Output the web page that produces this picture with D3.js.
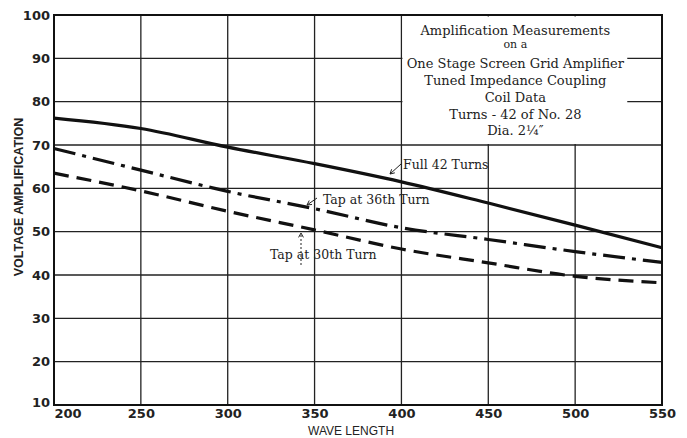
<!DOCTYPE html>
<html>
<head>
<meta charset="utf-8">
<script src="https://cdn.jsdelivr.net/npm/d3@7"></script>
<style>
  body { margin: 0; background: #fff; }
  svg { display: block; }
  .tick text { font-family: "DejaVu Sans", sans-serif; font-weight: bold; font-size: 13px; fill: #222; }
  .note { font-family: "DejaVu Serif", serif; font-size: 13px; fill: #222; }
  .curve-label { font-family: "DejaVu Serif", serif; font-size: 12.5px; fill: #222; }
  .axis-label { font-family: "Liberation Sans", sans-serif; font-size: 12px; fill: #222; }
</style>
</head>
<body>
<div id="chart"></div>
<script>
// wave length (metres) at which the curves were read
let waveLength = [200, 250, 300, 350, 400, 450, 500, 550];
// voltage amplification for each tap
let full42 = [76.2, 73.8, 69.5, 65.7, 61.5, 56.6, 51.5, 46.3];
let tap36 = [69.2, 64.2, 59.3, 55.3, 50.9, 48.2, 45.4, 42.9];
let tap30 = [63.5, 59.4, 54.7, 50.4, 46.0, 42.8, 39.7, 38.2];

let xTicks = [200, 250, 300, 350, 400, 450, 500, 550];
let yTicks = [10, 20, 30, 40, 50, 60, 70, 80, 90, 100];

let noteLines = [
  "Amplification  Measurements",
  "on a",
  "One Stage  Screen  Grid  Amplifier",
  "Tuned Impedance Coupling",
  "Coil Data",
  "Turns - 42 of No. 28",
  "Dia. 2\u00BC\u2033"
];

let margin = { top: 15, right: 25, bottom: 33, left: 54 };
let W = 687, H = 438;
let width = W - margin.left - margin.right;
let height = H - margin.top - margin.bottom;

let xScale = d3.scaleLinear().domain([200, 550]).range([0, width]);
let yScale = d3.scaleLinear().domain([10, 100]).range([height, 0]);

let svg = d3.select('#chart').append('svg')
  .attr('width', W).attr('height', H);

let g = svg.append('g')
  .attr('transform', `translate(${margin.left}, ${margin.top})`);

// grid
let grid = g.append('g').attr('class', 'grid');
grid.selectAll('.hline')
  .data(yTicks)
  .join('line')
  .attr('x1', 0).attr('x2', width)
  .attr('y1', d => yScale(d)).attr('y2', d => yScale(d))
  .attr('stroke', '#222').attr('stroke-width', 1.3);
grid.selectAll('.vline')
  .data(xTicks)
  .join('line')
  .attr('x1', d => xScale(d)).attr('x2', d => xScale(d))
  .attr('y1', 0).attr('y2', height)
  .attr('stroke', '#222').attr('stroke-width', 1.3);

// white panel for the note, top right
let boxX0 = xScale(400), boxX1 = xScale(530);
g.append('rect')
  .attr('x', boxX0 + 1).attr('y', yScale(100) + 1.5)
  .attr('width', boxX1 - boxX0 - 1)
  .attr('height', yScale(70) - yScale(100) - 2.5)
  .attr('fill', '#fff');

// frame
g.append('rect')
  .attr('x', 0).attr('y', 0).attr('width', width).attr('height', height)
  .attr('fill', 'none').attr('stroke', '#111').attr('stroke-width', 2);

// curves
let line = d3.line()
  .x((d, i) => xScale(waveLength[i]))
  .y(d => yScale(d))
  .curve(d3.curveMonotoneX);

g.append('path').datum(full42)
  .attr('d', line).attr('fill', 'none')
  .attr('stroke', '#111').attr('stroke-width', 3.2);
g.append('path').datum(tap36)
  .attr('d', line).attr('fill', 'none')
  .attr('stroke', '#111').attr('stroke-width', 3.2)
  .attr('stroke-dasharray', '22,7,4,7');
g.append('path').datum(tap30)
  .attr('d', line).attr('fill', 'none')
  .attr('stroke', '#111').attr('stroke-width', 3.2)
  .attr('stroke-dasharray', '15,8');

// axes
let xAxis = d3.axisBottom(xScale).tickValues(xTicks).tickSize(0).tickPadding(4);
let yAxis = d3.axisLeft(yScale).tickValues(yTicks).tickSize(0).tickPadding(4);

let gx = g.append('g').attr('transform', `translate(0, ${height})`).call(xAxis);
gx.select('.domain').remove();
gx.selectAll('.tick text')
  .attr('text-anchor', d => d === 200 ? 'start' : 'middle');

let gy = g.append('g').call(yAxis);
gy.select('.domain').remove();
gy.selectAll('.tick text').attr('dy', d => d === 10 ? '0.1em' : '0.32em');

// axis titles
g.append('text').attr('class', 'axis-label')
  .attr('x', xScale(371)).attr('y', height + 30)
  .attr('text-anchor', 'middle')
  .text('WAVE LENGTH');
g.append('text').attr('class', 'axis-label')
  .style('font-weight', 'bold').style('font-size', '12.5px')
  .attr('transform', `translate(${-31}, ${yScale(58)}) rotate(-90)`)
  .attr('text-anchor', 'middle')
  .text('VOLTAGE AMPLIFICATION');

// note text
let noteX = (boxX0 + boxX1) / 2 + 1;
let noteY = [20, 33, 53, 70, 87, 104, 120];
g.selectAll('.noteline')
  .data(noteLines)
  .join('text')
  .attr('class', 'note')
  .style('font-size', (d, i) => i === 1 ? '11px' : null)
  .attr('x', noteX)
  .attr('y', (d, i) => noteY[i])
  .attr('text-anchor', 'middle')
  .text(d => d);

// curve labels with leaders
function arrow(x1, y1, x2, y2, dotted) {
  g.append('line')
    .attr('x1', x1).attr('y1', y1).attr('x2', x2).attr('y2', y2)
    .attr('stroke', '#222').attr('stroke-width', 1)
    .attr('stroke-dasharray', dotted ? '2,2' : null);
  let a = Math.atan2(y2 - y1, x2 - x1);
  let s = 5;
  g.append('path')
    .attr('d', `M${x2},${y2}L${x2 - s * Math.cos(a - 0.5)},${y2 - s * Math.sin(a - 0.5)}M${x2},${y2}L${x2 - s * Math.cos(a + 0.5)},${y2 - s * Math.sin(a + 0.5)}`)
    .attr('stroke', '#222').attr('stroke-width', 1).attr('fill', 'none');
}

g.append('text').attr('class', 'curve-label')
  .attr('x', 349).attr('y', 154).text('Full 42 Turns');
arrow(347, 149, 336, 159, false);

g.append('text').attr('class', 'curve-label')
  .attr('x', 269).attr('y', 189).text('Tap at 36th Turn');
arrow(263, 183, 253, 190, false);

g.append('text').attr('class', 'curve-label')
  .attr('x', 216).attr('y', 244).text('Tap at 30th Turn');
arrow(247, 250, 247, 218, true);
</script>
</body>
</html>
